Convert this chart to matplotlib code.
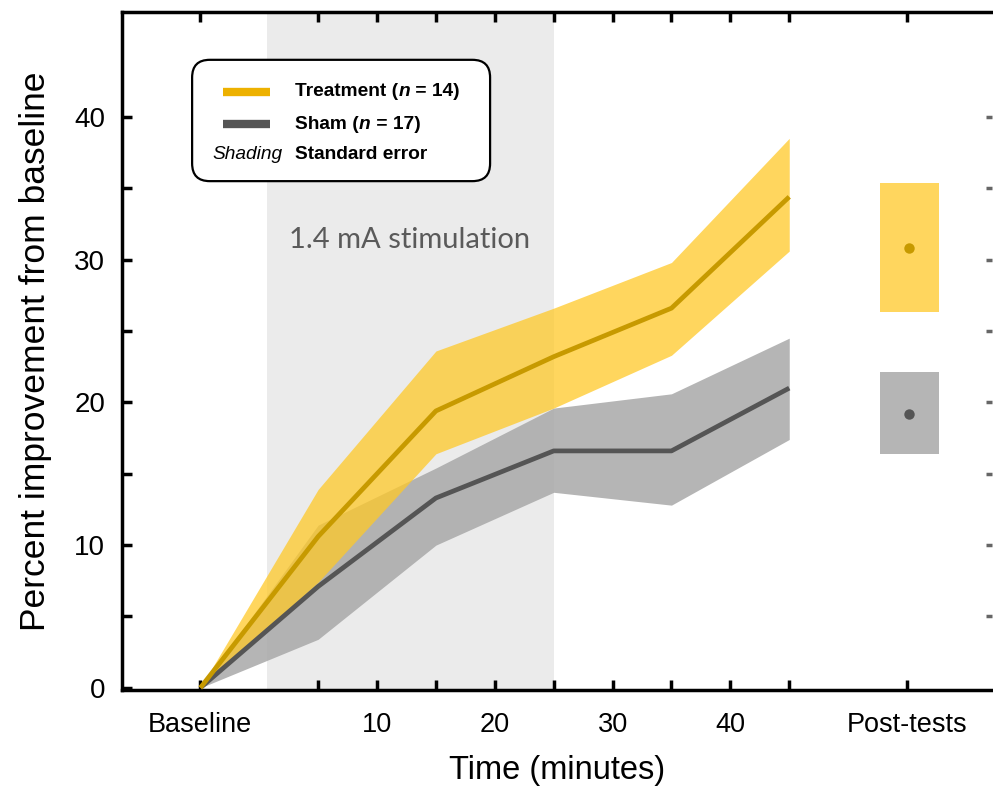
import numpy as np
from matplotlib import pyplot as plt
from matplotlib.patches import FancyBboxPatch, Rectangle
from matplotlib.lines import Line2D

plt.rcParams['font.family'] = ['Liberation Sans', 'DejaVu Sans']

# time points (minutes); baseline drawn at -5, post-tests at 55
times = [-5, 5, 15, 25, 35, 45]
treat_mean = [0, 10.6, 19.4, 23.2, 26.6, 34.4]
treat_upper = [0, 13.9, 23.6, 26.6, 29.8, 38.5]
treat_lower = [0, 7.4, 16.4, 19.6, 23.3, 30.6]
sham_mean = [0, 7.1, 13.3, 16.6, 16.6, 21.0]
sham_upper = [0, 11.4, 15.4, 19.6, 20.6, 24.5]
sham_lower = [0, 3.4, 10.0, 13.7, 12.8, 17.4]

post_x = 55
post_treat = [30.8, 26.3, 35.4]   # mean, lower, upper
post_sham = [19.2, 16.4, 22.1]

stim_window = [0.7, 25]

tick_pos = [-5, 5, 10, 15, 20, 25, 30, 35, 40, 45, 55]
tick_labels = ['Baseline', '', '10', '', '20', '', '30', '', '40', '', 'Post-tests']

yellow_fill = '#FFC928'
yellow_line = '#C79A00'
gray_fill = '#A8A8A8'
gray_line = '#555555'

fig = plt.figure(figsize=(9.93, 7.95), dpi=100)
ax = fig.add_axes([0.1229, 0.1321, 0.8771, 0.8528])
ax.set_xlim(-11.65, 62.3)
ax.set_ylim(-0.15, 47.35)

ax.axvspan(stim_window[0], stim_window[1], color='#EBEBEB', zorder=0, lw=0)
ax.text(12.8, 31.4, '1.4 mA stimulation', fontsize=21, color='#5A5A5A',
        ha='center', va='center', family=['Lato', 'DejaVu Sans'])

# sham
ax.fill_between(times, sham_lower, sham_upper, color=gray_fill, alpha=0.85, lw=0, zorder=2)
ax.plot(times, sham_mean, color=gray_line, lw=3.4, zorder=4, solid_capstyle='butt')
# treatment
ax.fill_between(times, treat_lower, treat_upper, color=yellow_fill, alpha=0.75, lw=0, zorder=3)
ax.plot(times, treat_mean, color=yellow_line, lw=3.4, zorder=5, solid_capstyle='butt')

# post-tests
for vals, fc, alpha, lc in [(post_treat, yellow_fill, 0.75, yellow_line),
                            (post_sham, gray_fill, 0.85, gray_line)]:
    ax.add_patch(Rectangle((post_x - 2.3, vals[1]), 5.0, vals[2] - vals[1],
                           facecolor=fc, alpha=alpha, lw=0, zorder=3))
    ax.plot([post_x + 0.2], [vals[0]], 'o', color=lc, ms=7.5, mew=0, zorder=5)

# axes styling
for side in ['left', 'bottom', 'top']:
    ax.spines[side].set_linewidth(2.5)
ax.spines['right'].set_visible(False)
ax.set_xticks(tick_pos)
ax.set_xticklabels(tick_labels, fontsize=19.5)
ax.set_yticks([0, 10, 20, 30, 40])
ax.set_yticks([5, 15, 25, 35], minor=True)
ax.set_yticklabels(['0', '10', '20', '30', '40'], fontsize=20)
ax.tick_params(axis='both', which='both', direction='in', length=7, width=2.5, top=True)
ax.tick_params(axis='x', pad=16)
ax.tick_params(axis='y', pad=12)
ax.set_xlabel('Time (minutes)', fontsize=23.5, labelpad=12)
ax.set_ylabel('Percent improvement from baseline', fontsize=25.5, labelpad=16)

# legend box
box = FancyBboxPatch((-5.7, 35.5), 25.3, 8.5, boxstyle='round,pad=0,rounding_size=1.5',
                     mutation_aspect=0.8245, facecolor='white', edgecolor='black',
                     lw=1.6, zorder=6)
ax.add_patch(box)
ax.add_line(Line2D([-3.1, 0.9], [41.75, 41.75], color='#EDB100', lw=6, zorder=7,
                   solid_capstyle='butt'))
ax.add_line(Line2D([-3.1, 0.9], [39.5, 39.5], color=gray_line, lw=6, zorder=7,
                   solid_capstyle='butt'))

fs = 13.8
for y, name, n in [(41.75, 'Treatment (', ' = 14)'), (39.5, 'Sham (', ' = 17)')]:
    t1 = ax.text(3.05, y, name, fontsize=fs, weight='bold', va='center', zorder=8)
    t2 = ax.annotate('n', xy=(1, 0), xycoords=t1, va='bottom', fontsize=fs,
                     weight='bold', style='italic', zorder=8)
    ax.annotate(n, xy=(1, 0), xycoords=t2, va='bottom', fontsize=fs,
                weight='bold', zorder=8)
ax.text(2.0, 37.35, 'Shading', fontsize=fs, style='italic', ha='right', va='center', zorder=8)
ax.text(3.05, 37.35, 'Standard error', fontsize=fs, weight='bold', va='center', zorder=8)

# tick marks of the neighbouring panel, cut off at the right edge
ax2 = fig.add_axes([0.9985, 0.1321, 0.2, 0.8528])
ax2.set_ylim(-0.15, 47.35)
ax2.set_yticks([5, 10, 15, 20, 25, 30, 35, 40])
ax2.set_yticklabels([])
ax2.set_xticks([])
for s in ax2.spines.values():
    s.set_visible(False)
ax2.patch.set_visible(False)
ax2.tick_params(axis='y', direction='out', length=4, width=2.5, color='#666666')

fig.savefig('out.png', dpi=100)
